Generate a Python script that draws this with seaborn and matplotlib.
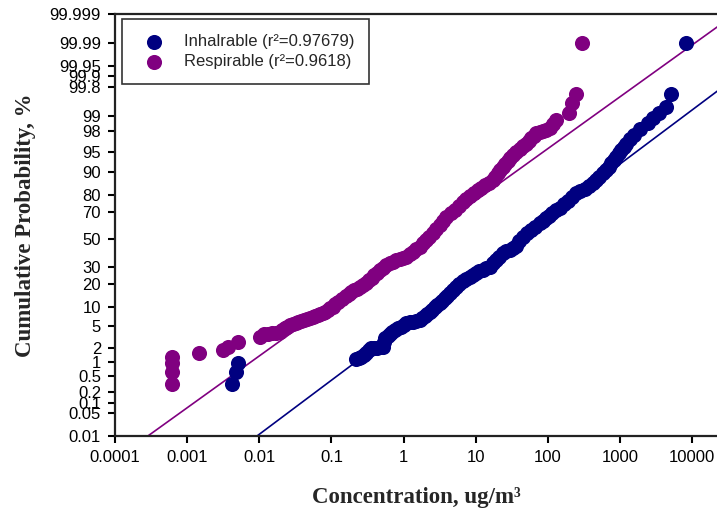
import numpy as np
import pandas as pd
import matplotlib
matplotlib.use('Agg')
import matplotlib.pyplot as plt
import seaborn as sns
from matplotlib.ticker import FixedLocator, FixedFormatter, NullLocator
from statistics import NormalDist

# 数据 (浓度 ug/m3, 累积概率 %)
inh_conc = [0.00413, 0.00474, 0.0050, 0.218, 0.240, 0.261, 0.282, 0.304, 0.33, 0.359,
            0.39, 0.426, 0.47, 0.515, 0.53, 0.55, 0.60, 0.644, 0.70, 0.755,
            0.83, 0.914, 1.0, 1.10, 1.22, 1.34, 1.50, 1.68, 1.82, 1.97,
            2.13, 2.31, 2.50, 2.70, 2.93, 3.17, 3.43, 3.72, 4.02, 4.36,
            4.85, 5.37, 5.95, 6.61, 7.4, 8.26, 9.2, 10.2, 11.3, 12.6,
            14.0, 15.6, 17.3, 19.2, 21.3, 23.7, 26.5, 29.6, 33, 36.6,
            40.5, 45.2, 51.5, 58.7, 67, 76.9, 85, 94.6, 105, 116,
            130, 146, 166, 188, 216, 248, 283, 324, 370, 422,
            470, 521, 580, 646, 700, 758, 820, 889, 960, 1042,
            1130, 1222, 1400, 1592, 1928, 2433, 2920, 3532, 4375, 5130,
            8280]
inh_prob = [0.32, 0.62, 0.95, 1.18, 1.25, 1.32, 1.45, 1.62, 1.8, 1.97,
            2.0, 2.04, 2.08, 2.12, 2.6, 3.07, 3.35, 3.67, 4.0, 4.33,
            4.6, 4.88, 5.3, 5.68, 5.85, 6.02, 6.2, 6.36, 6.85, 7.37,
            7.95, 8.57, 9.2, 9.89, 10.6, 11.3, 12.2, 13.2, 14.3, 15.4,
            16.9, 18.4, 20.0, 21.6, 22.8, 23.9, 25.0, 26.2, 27.2, 28.1,
            29.2, 30.3, 32.5, 34.8, 37.3, 39.9, 41.1, 42.4, 43.7, 45.0,
            48.5, 52.0, 54.6, 57.1, 59.6, 62.0, 63.7, 65.4, 67.3, 69.1,
            70.8, 72.4, 74.7, 76.9, 78.9, 80.8, 82.0, 83.2, 84.4, 85.6,
            87.0, 88.3, 89.4, 90.5, 91.5, 92.5, 93.3, 94.1, 94.8, 95.5,
            96.0, 96.5, 97.1, 97.6, 98.16, 98.6, 98.92, 99.15, 99.40, 99.71,
            99.99]

resp_conc = [0.00062, 0.00062, 0.00062, 0.00062, 0.00146, 0.00316, 0.00367, 0.00506, 0.0102, 0.0116,
             0.0133, 0.0150, 0.017, 0.0193, 0.021, 0.0225, 0.0245, 0.0265, 0.029, 0.032,
             0.035, 0.0385, 0.042, 0.046, 0.050, 0.0552, 0.060, 0.065, 0.070, 0.076,
             0.082, 0.089, 0.097, 0.1045, 0.114, 0.125, 0.14, 0.158, 0.173, 0.189,
             0.207, 0.225, 0.248, 0.272, 0.30, 0.33, 0.36, 0.393, 0.43, 0.468,
             0.52, 0.575, 0.64, 0.708, 0.79, 0.885, 0.99, 1.10, 1.22, 1.36,
             1.51, 1.68, 1.86, 2.06, 2.29, 2.54, 2.84, 3.17, 3.53, 3.93,
             4.5, 5.12, 5.8, 6.61, 7.45, 8.4, 9.5, 10.7, 12.0, 13.5,
             15.3, 17.2, 18.7, 20.2, 21.9, 23.7, 25.6, 27.7, 30.0, 32.5,
             36.3, 40.6, 45.2, 50.4, 54.5, 59, 64, 69.3, 77, 85.5,
             95, 106, 118, 131, 200, 220, 243, 301]
resp_prob = [0.31, 0.61, 0.97, 1.30, 1.56, 1.82, 2.12, 2.65, 3.28, 3.67,
             3.72, 3.8, 3.9, 3.99, 4.3, 4.6, 4.95, 5.27, 5.5, 5.7,
             5.9, 6.13, 6.35, 6.6, 6.85, 7.10, 7.35, 7.6, 7.9, 8.19,
             8.6, 9.1, 9.6, 10.05, 11.0, 12.0, 13.1, 14.2, 15.1, 16.0,
             16.8, 17.6, 18.5, 19.4, 20.7, 22.1, 23.5, 25.0, 26.5, 28.1,
             29.6, 31.1, 32.5, 33.7, 34.6, 35.5, 36.3, 37.2, 39.0, 40.9,
             42.7, 44.5, 47.0, 49.6, 52.2, 54.8, 57.8, 60.7, 63.6, 66.4,
             69.0, 71.4, 73.8, 76.0, 77.8, 79.4, 81.0, 82.5, 83.7, 84.8,
             85.9, 86.9, 88.2, 89.4, 90.5, 91.5, 92.4, 93.1, 93.9, 94.5,
             95.1, 95.6, 96.1, 96.5, 96.9, 97.2, 97.5, 97.76, 97.9, 98.0,
             98.1, 98.24, 98.55, 98.81, 99.16, 99.51, 99.71, 99.99]

inh_r2 = 0.97679
resp_r2 = 0.9618
# 对数正态拟合线: (log10 均值, log10 标准差)
inh_fit = (1.606, 0.978)
resp_fit = (0.249, 1.020)

y_ticks = [0.01, 0.05, 0.1, 0.2, 0.5, 1, 2, 5, 10, 20, 30, 50, 70, 80, 90, 95, 98, 99,
           99.8, 99.9, 99.95, 99.99, 99.999]
x_ticks = [0.0001, 0.001, 0.01, 0.1, 1, 10, 100, 1000, 10000]
x_labels = ['0.0001', '0.001', '0.01', '0.1', '1', '10', '100', '1000', '10000']

navy = '#000080'
purple = '#800080'

# 概率坐标
nd = NormalDist()
_ppf = np.vectorize(nd.inv_cdf, otypes=[float])
_cdf = np.vectorize(nd.cdf, otypes=[float])


def prob_fwd(p):
    p = np.clip(np.asarray(p, dtype=float) / 100.0, 1e-12, 1 - 1e-12)
    return _ppf(p)


def prob_inv(z):
    return _cdf(np.asarray(z, dtype=float)) * 100.0


sns.set_theme(style='ticks')
plt.rcParams['font.family'] = ['Liberation Sans', 'DejaVu Sans']

fig = plt.figure(figsize=(7.17, 5.14), dpi=100)
ax = fig.add_axes([115 / 717, 1 - 436 / 514, 602 / 717, 422 / 514])
ax.set_xscale('log')
ax.set_yscale('function', functions=(prob_fwd, prob_inv))

# 拟合线
xs = np.logspace(-5, 6, 300)
for (mu, sd), col in [(inh_fit, navy), (resp_fit, purple)]:
    line_df = pd.DataFrame({'x': xs, 'p': prob_inv((np.log10(xs) - mu) / sd)})
    sns.lineplot(data=line_df, x='x', y='p', color=col, linewidth=1.2,
                 estimator=None, sort=False, legend=False, ax=ax, zorder=2)

df_inh = pd.DataFrame({'conc': inh_conc, 'prob': inh_prob})
df_resp = pd.DataFrame({'conc': resp_conc, 'prob': resp_prob})
sns.scatterplot(data=df_inh, x='conc', y='prob', color=navy, s=118, linewidth=0,
                label=f'Inhalrable (r²={inh_r2})', ax=ax, zorder=3)
sns.scatterplot(data=df_resp, x='conc', y='prob', color=purple, s=118, linewidth=0,
                label=f'Respirable (r²={resp_r2})', ax=ax, zorder=3)

ax.set_xlim(1e-4, 10 ** (4 + 25 / 72.2))
ax.set_ylim(0.01, 99.999)

ax.xaxis.set_major_locator(FixedLocator(x_ticks))
ax.xaxis.set_major_formatter(FixedFormatter(x_labels))
ax.xaxis.set_minor_locator(NullLocator())
ax.yaxis.set_major_locator(FixedLocator(y_ticks))
ax.yaxis.set_major_formatter(FixedFormatter([f'{v:g}' for v in y_ticks]))
ax.yaxis.set_minor_locator(NullLocator())

ax.tick_params(direction='out', length=5, width=1.5, labelsize=12, colors='black', pad=5)
for side in ['left', 'top', 'bottom']:
    ax.spines[side].set_linewidth(1.6)
    ax.spines[side].set_color('#222222')
ax.spines['right'].set_visible(False)

ax.set_xlabel('Concentration, ug/m³', fontsize=16.5, fontweight='bold',
              family=['Liberation Serif', 'DejaVu Serif'], labelpad=16)
ax.set_ylabel('Cumulative Probability, %', fontsize=16.5, fontweight='bold',
              family=['Liberation Serif', 'DejaVu Serif'], labelpad=10)

leg = ax.legend(loc='upper left', bbox_to_anchor=(122 / 717, 1 - 19 / 514),
                bbox_transform=fig.transFigure, frameon=True, fancybox=False,
                edgecolor='black', fontsize=12, borderpad=0.9, handletextpad=0.8,
                labelspacing=0.3, borderaxespad=0)
leg.get_frame().set_linewidth(1.2)

plt.savefig('out.png', dpi=100)
plt.close()
